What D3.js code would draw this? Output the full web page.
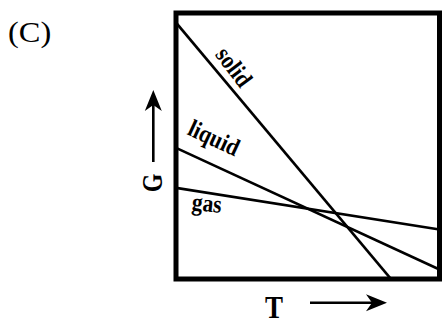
<!DOCTYPE html>
<html>
<head>
<meta charset="utf-8">
<script src="https://cdn.jsdelivr.net/npm/d3@7"></script>
<style>
  html, body { margin: 0; padding: 0; background: #fff; }
  svg { display: block; }
  text { font-family: "Liberation Serif", "DejaVu Serif", serif; fill: #000; }
</style>
</head>
<body>
<div id="chart"></div>
<script>
// ---- data ----
const panelLabel = "(C)";
const xLabel = "T";
const yLabel = "G";
const phases = ["solid", "liquid", "gas"];
const solidT = [0, 8.16];
const solidG = [9.64, 0];
const liquidT = [0, 10];
const liquidG = [4.93, 0.36];
const gasT = [0, 10];
const gasG = [3.43, 1.86];
// label anchor points in data units and label angles
const labelT = [2.18, 1.43, 1.17];
const labelG = [7.95, 5.28, 2.82];
const labelAngle = [53, 25, 6];

const W = 443, H = 323;
const svg = d3.select("#chart").append("svg").attr("width", W).attr("height", H);

const box = { left: 176, right: 439.5, top: 13, bottom: 279 };
const x = d3.scaleLinear().domain([0, 10]).range([box.left, box.right]);
const y = d3.scaleLinear().domain([0, 10]).range([box.bottom, box.top]);

// clip
svg.append("clipPath").attr("id", "inner")
  .append("rect")
  .attr("x", box.left).attr("y", box.top)
  .attr("width", box.right - box.left).attr("height", box.bottom - box.top);

const series = [
  { name: phases[0], T: solidT, G: solidG },
  { name: phases[1], T: liquidT, G: liquidG },
  { name: phases[2], T: gasT, G: gasG }
];

const line = d3.line().x(d => x(d[0])).y(d => y(d[1]));
svg.append("g").attr("clip-path", "url(#inner)")
  .selectAll("path").data(series).join("path")
  .attr("d", s => line(s.T.map((t, i) => [t, s.G[i]])))
  .attr("fill", "none").attr("stroke", "#000").attr("stroke-width", 2.7);

// frame
svg.append("rect")
  .attr("x", box.left).attr("y", box.top)
  .attr("width", box.right - box.left).attr("height", box.bottom - box.top)
  .attr("fill", "none").attr("stroke", "#000").attr("stroke-width", 5);

// series labels
svg.selectAll("text.lbl").data(series).join("text")
  .attr("class", "lbl")
  .attr("transform", (s, i) => `translate(${x(labelT[i])},${y(labelG[i])}) rotate(${labelAngle[i]}) scale(1,1.15)`)
  .attr("text-anchor", "middle")
  .attr("dy", "0.3em")
  .attr("font-weight", "bold")
  .attr("font-size", 21.5)
  .text(s => s.name);

// panel label
svg.append("text")
  .attr("transform", "translate(8,42) scale(1.08,1)")
  .attr("font-size", 30)
  .text(panelLabel);

// axis labels
svg.append("text")
  .attr("transform", "translate(162,183) rotate(-90) scale(1,1.2)")
  .attr("text-anchor", "middle")
  .attr("font-weight", "bold")
  .attr("font-size", 24)
  .text(yLabel);

svg.append("text")
  .attr("transform", "translate(274,318) scale(1,1.17)")
  .attr("text-anchor", "middle")
  .attr("font-weight", "bold")
  .attr("font-size", 27)
  .text(xLabel);

// arrows
function arrowHead(tipX, tipY, angleDeg) {
  const g = svg.append("g")
    .attr("transform", `translate(${tipX},${tipY}) rotate(${angleDeg})`);
  g.append("path")
    .attr("d", "M0,0 L-21,-8.5 L-15,0 L-21,8.5 Z")
    .attr("fill", "#000");
}
svg.append("line").attr("x1", 153.3).attr("y1", 162).attr("x2", 153.3).attr("y2", 100)
  .attr("stroke", "#000").attr("stroke-width", 2.6);
arrowHead(153.3, 90, -90);

svg.append("line").attr("x1", 310).attr("y1", 302.7).attr("x2", 377).attr("y2", 302.7)
  .attr("stroke", "#000").attr("stroke-width", 2.6);
arrowHead(387, 302.7, 0);
</script>
</body>
</html>
